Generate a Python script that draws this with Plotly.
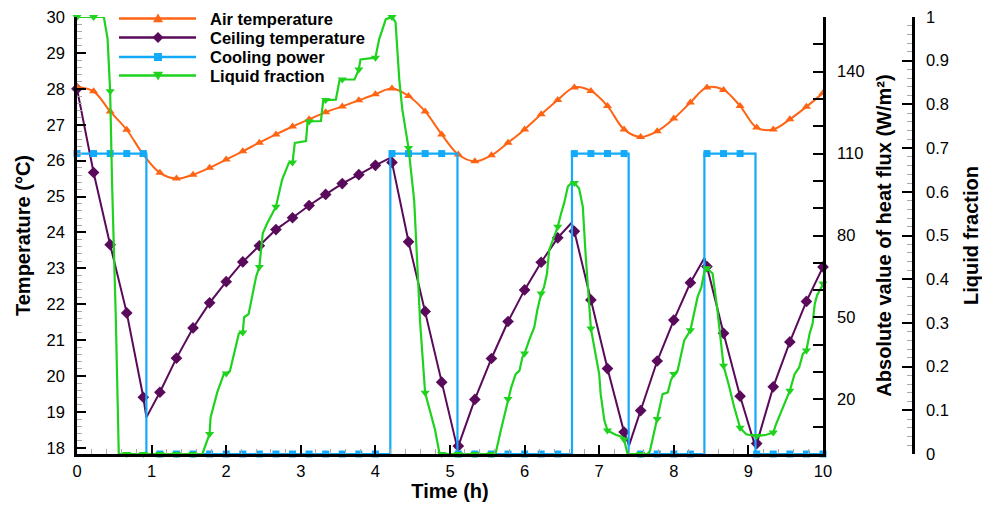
import plotly.graph_objects as go

# ---------------- data ----------------
STEP = 2 / 9  # marker sampling interval (h)
mark_t = [round(k * STEP, 4) for k in range(46)]

air_temp = [28.05, 27.93, 27.37, 26.86, 26.17, 25.66, 25.50, 25.61, 25.80, 26.03,
            26.26, 26.50, 26.73, 26.95, 27.15, 27.35, 27.51, 27.68, 27.85, 28.01,
            27.80, 27.37, 26.73, 26.17, 25.98, 26.15, 26.50, 26.87, 27.29, 27.69,
            28.04, 27.94, 27.52, 26.87, 26.66, 26.82, 27.17, 27.62, 28.04, 27.97,
            27.52, 26.92, 26.87, 27.15, 27.50, 27.88]

ceil_temp = [28.00, 25.67, 23.66, 21.76, 19.41, 19.55, 20.50, 21.34, 22.04, 22.63,
             23.18, 23.63, 24.08, 24.41, 24.75, 25.06, 25.36, 25.61, 25.87, 25.95,
             23.74, 21.80, 19.83, 18.05, 19.35, 20.49, 21.52, 22.40, 23.17, 23.85,
             24.03, 22.12, 20.21, 18.44, 19.04, 20.42, 21.56, 22.60, 23.05, 21.19,
             19.44, 18.12, 19.70, 20.95, 22.08, 23.04]
ceil_turn_t = [0.93, 4.21, 5.10, 6.63, 7.40, 8.41, 9.095]
ceil_turn_v = [18.85, 26.09, 17.98, 24.27, 18.07, 23.29, 18.02]

cool_on_start = [0.0, 4.20, 6.635, 8.41]
cool_on_end = [0.93, 5.10, 7.395, 9.095]
cool_level = 110
cool_off_level = 0

liq_frac = [1.0, 1.0, 0.83, 0.0, 0.0, 0.0, 0.0, 0.0, 0.046, 0.184,
            0.278, 0.428, 0.566, 0.667, 0.761, 0.810, 0.857, 0.880, 0.907, 1.0,
            0.70, 0.14, 0.0, 0.0, 0.0, 0.0, 0.126, 0.23, 0.367, 0.52,
            0.62, 0.287, 0.054, 0.033, 0.0, 0.08, 0.183, 0.283, 0.425, 0.202,
            0.06, 0.041, 0.049, 0.145, 0.237, 0.39]
liq_extra_t = [0.36, 0.41, 0.47, 0.52, 0.56,
               1.68, 1.79, 1.88, 1.97, 2.05, 2.11, 2.17, 2.24, 2.30, 2.40, 2.49, 2.55,
               2.62, 2.75, 2.84, 2.92, 3.07, 3.09, 3.27, 3.30, 3.47, 3.52, 3.72, 3.80,
               4.05, 4.14, 4.20, 4.27, 4.32, 4.36, 4.52, 4.60, 4.72, 4.80, 4.86,
               5.61, 5.68, 5.82, 5.88, 5.93, 5.97, 6.06, 6.13, 6.17, 6.26, 6.30, 6.33,
               6.38, 6.49, 6.53, 6.58, 6.63, 6.73, 6.78, 6.82, 6.96, 7.00, 7.02, 7.07,
               7.22, 7.31, 7.38,
               7.65, 7.68, 7.73, 7.81, 7.85, 7.92, 7.96, 8.05, 8.10, 8.14, 8.28, 8.32,
               8.37, 8.41, 8.52, 8.58, 8.74, 8.81, 8.97, 9.10, 9.24, 9.37, 9.46, 9.53,
               9.62, 9.68, 9.73, 9.82, 9.86, 9.89, 9.92, 9.98]
liq_extra_v = [1.0, 0.95, 0.62, 0.313, 0.0,
               0.0, 0.083, 0.141, 0.184, 0.19, 0.233, 0.276, 0.313, 0.32, 0.405, 0.505, 0.528,
               0.55, 0.628, 0.666, 0.712, 0.716, 0.759, 0.762, 0.808, 0.811, 0.856, 0.857, 0.903,
               0.949, 0.995, 1.0, 0.988, 0.857, 0.789, 0.58, 0.30, 0.107, 0.055, 0.0,
               0.0, 0.053, 0.152, 0.183, 0.19, 0.221, 0.26, 0.29, 0.329, 0.382, 0.413, 0.467,
               0.49, 0.551, 0.574, 0.612, 0.621, 0.608, 0.566, 0.451, 0.214, 0.183, 0.137, 0.076,
               0.044, 0.039, 0.0,
               0.0, 0.007, 0.045, 0.107, 0.137, 0.141, 0.168, 0.19, 0.229, 0.26, 0.329, 0.36,
               0.382, 0.417, 0.413, 0.336, 0.156, 0.107, 0.045, 0.041, 0.044, 0.068, 0.107, 0.137,
               0.183, 0.198, 0.229, 0.275, 0.298, 0.344, 0.363, 0.382]

legend_names = ["Air temperature", "Ceiling temperature", "Cooling power", "Liquid fraction"]

# ---------------- helpers ----------------
def merged(t_a, v_a, t_b, v_b):
    pts = sorted(zip(list(t_a) + list(t_b), list(v_a) + list(v_b)), key=lambda p: p[0])
    return [p[0] for p in pts], [p[1] for p in pts]

ceil_t, ceil_v = merged(mark_t, ceil_temp, ceil_turn_t, ceil_turn_v)
liq_t, liq_v = merged(mark_t, liq_frac, liq_extra_t, liq_extra_v)

cool_t, cool_v = [], []
for s, e in zip(cool_on_start, cool_on_end):
    cool_t += [s, s, e, e]
    cool_v += [cool_off_level, cool_level, cool_level, cool_off_level]
if cool_t[0] == 0.0:
    cool_t, cool_v = cool_t[1:], cool_v[1:]
cool_t.append(10.0)
cool_v.append(cool_off_level)
cool_mark = [cool_level if any(s <= t <= e for s, e in zip(cool_on_start, cool_on_end))
             else cool_off_level for t in mark_t]

C_AIR = "#FF6414"
C_CEIL = "#5A0A5A"
C_COOL = "#14AAFA"
C_LIQ = "#1ED21E"

FONT = "Liberation Sans, Arial, sans-serif"

W, H = 982, 506
ML, MR, MT, MB = 77, 20, 17, 52
PW, PH = W - ML - MR, H - MT - MB

fig = go.Figure()

# cooling power (right axis 1)
fig.add_trace(go.Scatter(x=cool_t, y=cool_v, mode="lines", yaxis="y2",
                         line=dict(color=C_COOL, width=2.2), showlegend=False, hoverinfo="skip"))
fig.add_trace(go.Scatter(x=mark_t, y=cool_mark, mode="markers", yaxis="y2", cliponaxis=False,
                         marker=dict(symbol="square", size=7, color=C_COOL), showlegend=False))
# ceiling temperature
fig.add_trace(go.Scatter(x=ceil_t, y=ceil_v, mode="lines", yaxis="y",
                         line=dict(color=C_CEIL, width=2), showlegend=False, hoverinfo="skip"))
fig.add_trace(go.Scatter(x=mark_t, y=ceil_temp, mode="markers", yaxis="y", cliponaxis=False,
                         marker=dict(symbol="diamond", size=9, color=C_CEIL), showlegend=False))
# air temperature
fig.add_trace(go.Scatter(x=mark_t, y=air_temp, mode="lines+markers", yaxis="y",
                         line=dict(color=C_AIR, width=2, shape="spline", smoothing=1),
                         marker=dict(symbol="triangle-up", size=8, color=C_AIR), showlegend=False))
# liquid fraction (right axis 2)
fig.add_trace(go.Scatter(x=liq_t, y=liq_v, mode="lines", yaxis="y3",
                         line=dict(color=C_LIQ, width=2.2), showlegend=False, hoverinfo="skip"))
fig.add_trace(go.Scatter(x=mark_t, y=liq_frac, mode="markers", yaxis="y3", cliponaxis=False,
                         marker=dict(symbol="triangle-down", size=8, color=C_LIQ), showlegend=False))

# ---------------- hand-drawn legend (layout only) ----------------
def px2x(px):
    return (px - ML) / PW

def py2y(py):
    return 1 - (py - MT) / PH

def marker_path(kind, cx, cy, r):
    if kind == "triangle-up":
        pts = [(cx, cy - r), (cx + r, cy + 0.75 * r), (cx - r, cy + 0.75 * r)]
    elif kind == "triangle-down":
        pts = [(cx, cy + r), (cx + r, cy - 0.75 * r), (cx - r, cy - 0.75 * r)]
    elif kind == "diamond":
        pts = [(cx, cy - r), (cx + r, cy), (cx, cy + r), (cx - r, cy)]
    else:
        pts = [(cx - r, cy - r), (cx + r, cy - r), (cx + r, cy + r), (cx - r, cy + r)]
    return "M " + " L ".join(f"{px2x(a):.5f},{py2y(b):.5f}" for a, b in pts) + " Z"

shapes, annotations = [], []
leg_rows = [18.5, 37.5, 57.0, 75.5]
leg_style = [(C_AIR, "triangle-up", 5), (C_CEIL, "diamond", 5.5),
             (C_COOL, "square", 4), (C_LIQ, "triangle-down", 5)]
for name, py, (col, kind, r) in zip(legend_names, leg_rows, leg_style):
    shapes.append(dict(type="line", xref="paper", yref="paper", x0=px2x(119), x1=px2x(196),
                       y0=py2y(py), y1=py2y(py), line=dict(color=col, width=2.5)))
    shapes.append(dict(type="path", xref="paper", yref="paper",
                       path=marker_path(kind, 158, py, r), fillcolor=col,
                       line=dict(color=col, width=0)))
    annotations.append(dict(text=name, xref="paper", yref="paper", x=px2x(208), y=py2y(py),
                            xanchor="left", yanchor="middle", showarrow=False,
                            font=dict(family=FONT, size=16.5, color="black", weight="bold")))

tickfont = dict(family=FONT, size=16.5, color="black")
titlefont = dict(family=FONT, size=20, color="black", weight="bold")

fig.update_layout(
    width=W, height=H,
    margin=dict(l=ML, r=MR, t=MT, b=MB, autoexpand=False),
    paper_bgcolor="white", plot_bgcolor="white",
    font=dict(family=FONT, color="black"),
    showlegend=False,
    shapes=shapes, annotations=annotations,
    xaxis=dict(domain=[0, 746 / PW], range=[0, 10], dtick=1, ticks="inside", ticklen=9,
               tickwidth=2, tickcolor="black", showline=True, linewidth=3, linecolor="black",
               showgrid=False, zeroline=False, tickfont=tickfont, automargin=False,
               minor=dict(dtick=0.2, ticks="inside", ticklen=5, tickcolor="#aaaaaa", tickwidth=1,
                          showgrid=False),
               title=dict(text="Time (h)", font=titlefont, standoff=3)),
    yaxis=dict(range=[17.83, 30], dtick=1, ticks="inside", ticklen=9, tickwidth=2,
               tickcolor="black", showline=True, linewidth=2.5, linecolor="black",
               showgrid=False, zeroline=False, tickfont=tickfont, ticklabelstandoff=6,
               automargin=False,
               minor=dict(dtick=0.2, ticks="inside", ticklen=5, tickcolor="#aaaaaa", tickwidth=1,
                          showgrid=False),
               title=dict(text="Temperature (°C)", font=titlefont, standoff=11)),
    yaxis2=dict(overlaying="y", anchor="x", side="right", range=[0, 160], tick0=20, dtick=30,
                ticks="inside", ticklen=10, tickwidth=2, tickcolor="black", showline=True,
                linewidth=2.5, linecolor="black", showgrid=False, zeroline=False,
                tickfont=tickfont, ticklabelstandoff=8, automargin=False,
                minor=dict(dtick=10, ticks="inside", ticklen=10, tickcolor="black", tickwidth=2,
                           showgrid=False),
                title=dict(text="Absolute value of heat flux (W/m²)", font=titlefont, standoff=14)),
    yaxis3=dict(overlaying="y", anchor="free", position=(913 - ML) / PW, side="right",
                range=[0, 1], dtick=0.1, ticks="inside", ticklen=10, tickwidth=2,
                tickcolor="black", showline=True, linewidth=2.5, linecolor="black",
                showgrid=False, zeroline=False, tickfont=tickfont, ticklabelstandoff=8,
                automargin=False,
                minor=dict(dtick=0.02, ticks="inside", ticklen=5, tickcolor="#aaaaaa", tickwidth=1,
                           showgrid=False),
                title=dict(text="Liquid fraction", font=titlefont, standoff=17)),
)

fig.write_html("out.html")
